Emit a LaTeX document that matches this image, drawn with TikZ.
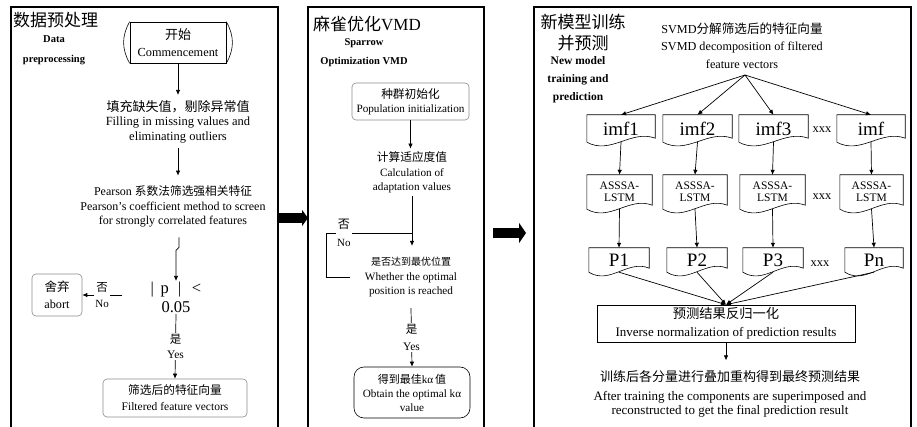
\documentclass[tikz,border=0pt]{standalone}
\usepackage{fontspec}
\setmainfont{Liberation Serif}
\newfontfamily\cjk{Noto Sans CJK SC}
\usetikzlibrary{arrows.meta,calc}
\newcommand\fsz[2]{\fontsize{#1}{#2}\selectfont}
\newcommand\zhs[2]{{\cjk\fontsize{#1}{#1}\selectfont #2}}
\tikzset{
 panel/.style={draw, line width=2pt, anchor=north west, inner sep=0pt, outer sep=0pt},
 txt/.style={align=center, inner sep=1pt},
 gbox/.style={draw=black!45, line width=0.6pt, rounded corners=4pt, align=center, inner sep=0pt},
 arr/.style={-{Latex[length=5pt,width=4.5pt]}, line width=0.7pt},
 ln/.style={line width=0.7pt},
 docn/.style={inner sep=0pt, align=center},
 docline/.style={line width=0.6pt},
 bigarr/.style={line width=10pt},
 lbl/.style={fill=white, align=center, inner sep=1pt},
}
\newcommand\docpath[1]{\draw[docline] (#1.south west) -- (#1.north west) -- (#1.north east) -- ($(#1.south east)+(0pt,4pt)$) .. controls ($(#1.south east)!0.35!(#1.south west)+(0pt,13pt)$) and ($(#1.south east)!0.65!(#1.south west)+(0pt,-13pt)$) .. (#1.south west);}
\begin{document}
\begin{tikzpicture}[x=1pt,y=-1pt]
\fill[white] (0,0) rectangle (917,427);
\useasboundingbox (0,0) rectangle (917,427);
% panels
\node[panel, minimum width=267pt, minimum height=440pt] (pa) at (11,7) {};
\node[panel, minimum width=176pt, minimum height=440pt] (pb) at (308,7) {};
\node[panel, minimum width=377pt, minimum height=440pt] (pc) at (534,7) {};
\draw[bigarr, -{Triangle[length=6pt,width=16pt]}] ([yshift=9pt]pa.east) -- ([yshift=9pt]pb.west);
\draw[bigarr, -{Triangle[length=7pt,width=20pt]}] ([xshift=9pt,yshift=-6pt]pb.east) -- ([xshift=-8pt,yshift=-6pt]pc.west);

% ---------- left panel ----------
\node[anchor=west, inner sep=0pt, font=\cjk\fsz{17}{20}] (ta) at (13,20) {数据预处理};
\node[txt, font=\bfseries\fsz{10.5}{20}] (tae) at (54,50) {Data\\preprocessing};
\node[draw, line width=0.6pt, minimum width=96pt, minimum height=41pt, align=center, inner sep=0pt, font=\fsz{12.3}{17}] (st) at (178,42.5) {\zhs{13}{开始}\\Commencement};
\draw[line width=0.6pt] (st.north west) to[bend right=30] (st.south west);
\draw[line width=0.6pt] (st.north east) to[bend left=30] (st.south east);
\node[txt, inner ysep=5pt, font=\fsz{12.5}{14.5}] (fl) at (178,121.5) {\zhs{13}{填充缺失值，剔除异常值}\\Filling in missing values and\\eliminating outliers};
\node[txt, inner ysep=10pt, font=\fsz{12}{14.5}] (pear) at (173,206.5) {Pearson \zhs{11.7}{系数法筛选强相关特征}\\Pearson's coefficient method to screen\\for strongly correlated features};
\node[txt, font=\fsz{16.5}{19}] (dec) at (176,297.5) {|\hspace{6.5pt}p\hspace{9.2pt}|\hspace{10.7pt}<\\0.05};
\node[gbox, minimum width=50pt, minimum height=42pt, font=\fsz{12.2}{17}] (ab) at (57,295) {\zhs{12.5}{舍弃}\\abort};
\node[gbox, minimum width=144pt, minimum height=38pt, font=\fsz{11.5}{16}] (filt) at (175,398) {\zhs{11.7}{筛选后的特征向量}\\Filtered feature vectors};
\coordinate (nost) at (122,295);
\draw[arr] (st.south) -- (st.south |- fl.north);
\draw[arr] (fl.south) -- (fl.south |- pear.north);
\draw[arr] ($(pear.south)+(6,0)$) -- ++(0,10) -- ++(-3,3) -- (dec.north);
\draw[arr] (nost) -- node[lbl, font=\fsz{11}{16}]{\zhs{11.5}{否}\\No} (ab.east);
\draw[arr] (dec.south) -- node[lbl, font=\fsz{11.5}{15}]{\zhs{11.5}{是}\\Yes} (filt.north);

% ---------- middle panel ----------
\node[anchor=west, inner sep=0pt, font=\fsz{17}{20}] (tb) at (313,24) {\zhs{17}{麻雀优化}VMD};
\node[txt, font=\bfseries\fsz{10.5}{19}] (tbe) at (364,52.5) {Sparrow\\Optimization VMD};
\node[gbox, minimum width=117pt, minimum height=37pt, font=\fsz{11.2}{14}] (pop) at (410.5,101.5) {\zhs{11.7}{种群初始化}\\Population initialization};
\node[txt, inner ysep=3pt, font=\fsz{11.2}{14.5}] (cfit) at (412,172.5) {\zhs{11.7}{计算适应度值}\\Calculation of\\adaptation values};
\node[txt, inner ysep=11pt, font=\fsz{11.2}{14.5}] (dec2) at (411,277) {\zhs{10}{是否达到最优位置}\\Whether the optimal\\position is reached};
\node[draw, line width=0.6pt, rounded corners=10pt, minimum width=116pt, minimum height=51pt, align=center, inner sep=0pt, font=\fsz{11.2}{14}] (res) at (412,392.5) {\zhs{11}{得到最佳}kα\,\zhs{11}{值}\\Obtain the optimal kα\\value};
\coordinate (jn) at (412,233);
\draw[arr] (pop.south) -- (pop.south |- cfit.north);
\draw[arr] (cfit.south) -- (cfit.south |- dec2.north);
\draw[ln] ($(dec2.west)+(-14,0)$) -- ++(-23,0) |- node[pos=0.6, lbl, font=\fsz{11}{18}]{\zhs{12}{否}\\No} (jn);
\draw[arr] (dec2.south) -- node[lbl, font=\fsz{11.5}{17}]{\zhs{11.5}{是}\\Yes} (res.north);

% ---------- right panel ----------
\node[txt, font=\cjk\fsz{17}{21}] (tc) at (583,32.5) {新模型训练\\并预测};
\node[txt, font=\bfseries\fsz{11.5}{18}] (tce) at (578,80) {New model\\training and\\prediction};
\node[txt, font=\fsz{12.2}{17.5}] (svmd) at (742,45.5) {SVMD\zhs{12.6}{分解筛选后的特征向量}\\SVMD decomposition of filtered\\feature vectors};
\coordinate (fan) at (745,75);

\node[docn, minimum width=68pt, minimum height=27pt, font=\fsz{19}{19}] (imf1) at (621,128.5) {imf1};
\node[docn, minimum width=69pt, minimum height=27pt, font=\fsz{19}{19}] (imf2) at (697.5,128.5) {imf2};
\node[docn, minimum width=69pt, minimum height=27pt, font=\fsz{19}{19}] (imf3) at (773.5,128.5) {imf3};
\node[docn, minimum width=68pt, minimum height=27pt, font=\fsz{19}{19}] (imf4) at (871,128.5) {imf};
\node[docn, minimum width=65pt, minimum height=34pt, font=\fsz{11.5}{12}] (as1) at (619.5,192) {ASSSA-\\LSTM};
\node[docn, minimum width=64pt, minimum height=34pt, font=\fsz{11.5}{12}] (as2) at (695,192) {ASSSA-\\LSTM};
\node[docn, minimum width=65pt, minimum height=34pt, font=\fsz{11.5}{12}] (as3) at (772.5,192) {ASSSA-\\LSTM};
\node[docn, minimum width=63pt, minimum height=34pt, font=\fsz{11.5}{12}] (as4) at (871.5,192) {ASSSA-\\LSTM};
\node[docn, minimum width=60pt, minimum height=24pt, font=\fsz{19}{19}] (pp1) at (619,260) {P1};
\node[docn, minimum width=60pt, minimum height=24pt, font=\fsz{19}{19}] (pp2) at (697,260) {P2};
\node[docn, minimum width=60pt, minimum height=24pt, font=\fsz{19}{19}] (pp3) at (773,260) {P3};
\node[docn, minimum width=58pt, minimum height=24pt, font=\fsz{19}{19}] (pp4) at (874,260) {Pn};
\foreach \n in {imf1,imf2,imf3,imf4,as1,as2,as3,as4,pp1,pp2,pp3,pp4}{\docpath{\n}}
\node[font=\fsz{12.5}{12}] (x1) at (822,130) {xxx};
\node[font=\fsz{12.5}{12}] (x2) at (822,197) {xxx};
\node[font=\fsz{12.5}{12}] (x3) at (820,264) {xxx};

\node[draw, line width=0.6pt, minimum width=258pt, minimum height=37pt, align=center, inner sep=0pt, font=\fsz{13}{18}] (norm) at (726,323.5) {\zhs{13.3}{预测结果反归一化}\\Inverse normalization of prediction results};
\node[txt, inner ysep=10pt, font=\fsz{13}{14.5}] (fin) at (730,394) {\zhs{13}{训练后各分量进行叠加重构得到最终预测结果}\\[4pt]After training the components are superimposed and\\reconstructed to get the final prediction result};

\foreach \a in {imf1,imf2,imf3,imf4}{\draw[arr] (fan) -- (\a.north);}
\draw[arr] (imf1.south) -- (as1.north);
\draw[arr] (imf2.south) -- (as2.north);
\draw[arr] (imf3.south) -- (as3.north);
\draw[arr] (imf4.south) -- (as4.north);
\draw[arr] (as1.south) -- (pp1.north);
\draw[arr] (as2.south) -- (pp2.north);
\draw[arr] (as3.south) -- (pp3.north);
\draw[arr] (as4.south) -- (pp4.north);
\foreach \p in {pp1,pp2,pp3,pp4}{\draw[arr] (\p.south) -- (norm.north);}
\draw[arr] (norm.south) -- (norm.south |- fin.north);
\end{tikzpicture}
\end{document}
